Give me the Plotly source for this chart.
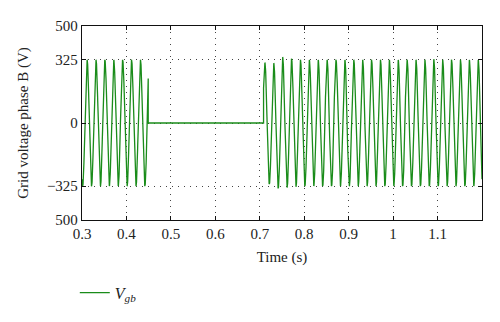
import numpy as np
import plotly.graph_objects as go

# ---- data ----
HALF_PERIOD = 0.01          # 50 Hz grid
PRE_FIRST_EXTREME_T = 0.2915
PRE_EXTREMES = [325, -325, 325, -325, 325, -325, 325, -325, 325, -325,
                325, -325, 325, -325, 325, -325, 325]
FAULT_ON = 0.449
FAULT_OFF = 0.7085
POST_FIRST_EXTREME_T = 0.7015
POST_EXTREMES = [-325, 311, -315, 308, -337, 339, -332, 330, -328, 325,
                 -325, 325, -325, 325, -325, 325, -325, 325, -325, 325,
                 -325, 325, -325, 325, -325, 325, -325, 325, -325, 325,
                 -325, 325, -325, 325, -325, 325, -325, 325, -325, 328,
                 -325, 325, -325, 325, -325, 325, -325, 325, -325, 325,
                 -325, 325]
X_TICKS = [0.3, 0.4, 0.5, 0.6, 0.7, 0.8, 0.9, 1.0, 1.1]
X_TICK_TEXT = ["0.3", "0.4", "0.5", "0.6", "0.7", "0.8", "0.9", "1", "1.1"]
Y_TICKS = [-500, -325, 0, 325, 500]
Y_TICK_TEXT = ["500", "\u2212325", "0", "325", "500"]


def waveform(t0, extremes, t_from, t_to, n=40):
    ts, vs = [], []
    for k in range(len(extremes) - 1):
        a, b = extremes[k], extremes[k + 1]
        s = np.linspace(0, 1, n, endpoint=False)
        tt = t0 + (k + s) * HALF_PERIOD
        vv = a * (1 + np.cos(np.pi * s)) / 2 + b * (1 - np.cos(np.pi * s)) / 2
        ts.append(tt)
        vs.append(vv)
    t_all = np.concatenate(ts)
    v_all = np.concatenate(vs)
    m = (t_all >= t_from) & (t_all <= t_to)
    tt, vv = t_all[m], v_all[m]
    a0 = float(np.interp(t_from, t_all, v_all))
    a1 = float(np.interp(t_to, t_all, v_all))
    return np.concatenate([[t_from], tt, [t_to]]), np.concatenate([[a0], vv, [a1]])


t1, v1 = waveform(PRE_FIRST_EXTREME_T, PRE_EXTREMES, 0.3, FAULT_ON, n=60)
t2, v2 = waveform(POST_FIRST_EXTREME_T, POST_EXTREMES, FAULT_OFF, 1.2, n=60)
t = np.concatenate([t1, [FAULT_ON, FAULT_OFF], t2])
v = np.concatenate([v1, [0, 0], v2])

FONT = "Liberation Serif"

fig = go.Figure()
fig.add_trace(go.Scatter(
    x=t, y=v, mode="lines",
    line=dict(color="#1a8c1a", width=1.3),
    name="<i>V</i><sub><i>gb</i></sub>",
    showlegend=True,
))

axis_common = dict(
    showline=True, linecolor="#111", linewidth=1.3, mirror="ticks",
    ticks="inside", ticklen=4, tickcolor="#111", tickwidth=1,
    showgrid=True, gridcolor="#444", gridwidth=1, griddash="1px,5px",
    zeroline=False,
    tickfont=dict(family=FONT, size=15, color="#222"),
)

fig.update_xaxes(
    range=[0.3, 1.2], tickmode="array", tickvals=X_TICKS, ticktext=X_TICK_TEXT,
    title=dict(text="Time (s)", font=dict(family=FONT, size=15, color="#222"), standoff=10),
    **axis_common,
)
fig.update_yaxes(
    range=[-500, 500], tickmode="array", tickvals=Y_TICKS, ticktext=Y_TICK_TEXT,
    title=dict(text="Grid voltage phase B (V)", font=dict(family=FONT, size=15, color="#222"), standoff=14),
    **axis_common,
)

fig.update_layout(
    width=500, height=322,
    margin=dict(l=82, r=18, t=26, b=102),
    paper_bgcolor="white", plot_bgcolor="white",
    legend=dict(x=-0.018, xanchor="left", y=-0.375, yanchor="middle",
                font=dict(family=FONT, size=16, color="#222"),
                bgcolor="rgba(0,0,0,0)"),
)

fig.write_html("out.html")
